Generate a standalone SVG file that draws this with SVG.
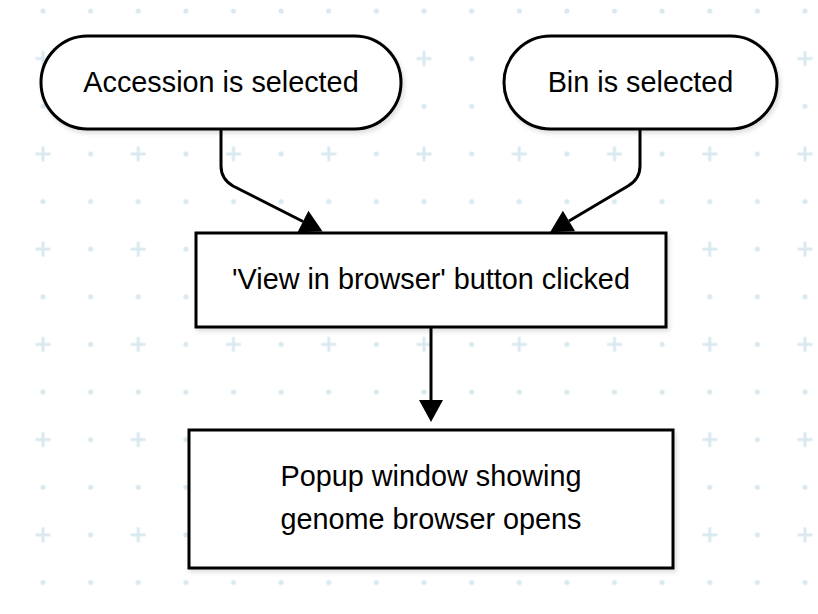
<svg xmlns="http://www.w3.org/2000/svg" width="818" height="614" viewBox="0 0 818 614">
  <style>
    .node { fill: #ffffff; stroke: #000000; stroke-width: 3; filter: url(#shadow); }
    .label { font-family: "Liberation Sans", Arial, Helvetica, sans-serif; font-size: 28.8px; fill: #000000; text-anchor: middle; }
    .edge { fill: none; stroke: #000000; stroke-width: 3; marker-end: url(#arrow); }
    .grid { fill: #d9e9ef; }
  </style>
  <defs>
    <pattern id="bggrid" patternUnits="userSpaceOnUse" x="19.19" y="-12.81" width="95.25" height="95.25">
      <circle class="grid" cx="23.81" cy="23.81" r="2.6"/>
      <circle class="grid" cx="71.44" cy="23.81" r="2.6"/>
      <circle class="grid" cx="71.44" cy="71.44" r="2.6"/>
      <rect class="grid" x="16.31" y="70" width="15" height="2.9"/>
      <rect class="grid" x="22.36" y="63.94" width="2.9" height="15"/>
    </pattern>
    <marker id="arrow" markerUnits="userSpaceOnUse" markerWidth="22" markerHeight="24" refX="0" refY="12" orient="auto" overflow="visible">
      <path d="M0,0 L22,12 L0,24 Z" fill="#000000"/>
    </marker>
    <filter id="shadow" x="-10%" y="-10%" width="125%" height="130%">
      <feDropShadow dx="2" dy="3" stdDeviation="2" flood-color="#000000" flood-opacity="0.12"/>
    </filter>
  </defs>

  <rect x="0" y="0" width="818" height="614" fill="#ffffff"/>
  <rect x="0" y="0" width="818" height="614" fill="url(#bggrid)"/>

  <g id="connectors">
    <path class="edge" d="M221,129 L221,166 Q221,179 233,186 L303,221.5"/>
    <path class="edge" d="M640,129 L640,166 Q640,179 628,186 L569,221"/>
    <path class="edge" d="M431,327 L431,400"/>
  </g>

  <g id="accession">
    <rect class="node" x="41" y="36" width="360" height="93" rx="46.5" ry="46.5"/>
    <text class="label" x="221" y="92">Accession is selected</text>
  </g>

  <g id="bin">
    <rect class="node" x="504" y="36" width="273" height="93" rx="46.5" ry="46.5"/>
    <text class="label" x="640.5" y="92">Bin is selected</text>
  </g>

  <g id="view-button">
    <rect class="node" x="196" y="233" width="470" height="94"/>
    <text class="label" x="431" y="289">'View in browser' button clicked</text>
  </g>

  <g id="popup">
    <rect class="node" x="189" y="430" width="484" height="138"/>
    <text class="label" x="431" y="486">Popup window showing</text>
    <text class="label" x="431" y="529">genome browser opens</text>
  </g>
</svg>
